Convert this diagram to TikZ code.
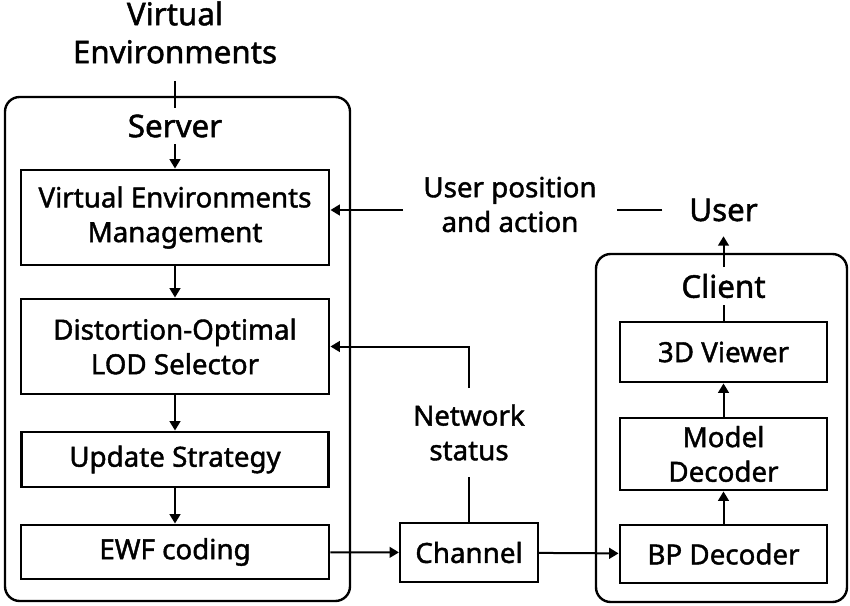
\documentclass[tikz,border=0pt]{standalone}
\usepackage{fontspec}
\setmainfont{Noto Sans}[FakeBold=1.5]
\usetikzlibrary{arrows.meta}

\tikzset{
  blk/.style={draw, line width=2.2pt, inner sep=0.75pt, align=center, font=\fontsize{20.8}{26}\selectfont},
  ttl/.style={inner sep=5pt, align=center, font=\fontsize{23.5}{28.5}\selectfont},
  lbl/.style={inner sep=0.75pt, align=center, font=\fontsize{20.8}{26}\selectfont},
  arr/.style={-{Triangle[length=7pt,width=8pt]}, line width=1.5pt},
  ln/.style={line width=1.5pt},
  grp/.style={line width=1.8pt, rounded corners=11pt}
}

\begin{document}
\begin{tikzpicture}[x=0.75pt,y=0.75pt,yscale=-1,xscale=1]
\useasboundingbox (0,0) rectangle (850,606);

%Shape: Rounded Rectangle [server]
\draw [grp] (5,97) rectangle (350,601);
%Shape: Rounded Rectangle [client]
\draw [grp] (596,254) rectangle (847,602);

%Shape: Rectangle [vem]
\node [blk, minimum width=231pt, minimum height=71.25pt] (vem) at (175,217.5) {Virtual Environments\\Management};
%Shape: Rectangle [lod]
\node [blk, minimum width=231pt, minimum height=71.25pt] (lod) at (175,346.5) {Distortion-Optimal\\LOD Selector};
%Shape: Rectangle [upd]
\node [blk, minimum width=230pt, minimum height=41.25pt] (upd) at (175,459.5) {Update Strategy};
%Shape: Rectangle [ewf]
\node [blk, minimum width=231pt, minimum height=40.5pt] (ewf) at (175,552) {EWF coding};
%Shape: Rectangle [chan]
\node [blk, line width=1.6pt, minimum width=103.5pt, minimum height=44.25pt] (chan) at (469,552.5) {Channel};
%Shape: Rectangle [bp]
\node [blk, minimum width=155.25pt, minimum height=43.5pt] (bp) at (723.5,554) {BP Decoder};
%Shape: Rectangle [model]
\node [blk, minimum width=155.25pt, minimum height=54pt] (model) at (723.5,454) {Model\\Decoder};
%Shape: Rectangle [view]
\node [blk, minimum width=155.25pt, minimum height=45pt] (view) at (723.5,352) {3D Viewer};

% Text Node
\node [ttl, inner sep=0.75pt] (vetxt) at (175,32.5) {Virtual\\Environments};
% Text Node
\node [ttl] (srvlbl) at (175,126) {Server};
% Text Node
\node [ttl] (cltlbl) at (723.5,286) {Client};
% Text Node
\node [ttl, inner xsep=20pt] (user) at (723.5,210) {User};
% Text Node
\node [lbl, inner xsep=15pt] (poslbl) at (510,204.5) {User position\\and action};
% Text Node
\node [lbl, inner ysep=12pt] (netlbl) at (469,432.5) {Network\\status};

%Straight Lines
\draw [ln, shorten <=12pt] (vetxt.south) -- (srvlbl.north);
\draw [arr] (srvlbl) -- (vem);
\draw [arr] (vem) -- (lod);
\draw [arr] (lod) -- (upd);
\draw [arr] (upd) -- (ewf);
\draw [arr] (ewf) -- (chan);
\draw [arr] (chan) -- (bp);
\draw [arr] (bp) -- (model);
\draw [arr] (model) -- (view);
\draw [ln] (view) -- (cltlbl);
\draw [arr, shorten >=6pt] (cltlbl) -- (user);
\draw [ln] (user.west) -- (user.west -| poslbl.east);
\draw [arr] (user.west -| poslbl.west) -- (user.west -| vem.east);
\draw [ln] (chan) -- (netlbl);
\draw [arr] (netlbl.north) |- (lod.east);

\end{tikzpicture}
\end{document}
